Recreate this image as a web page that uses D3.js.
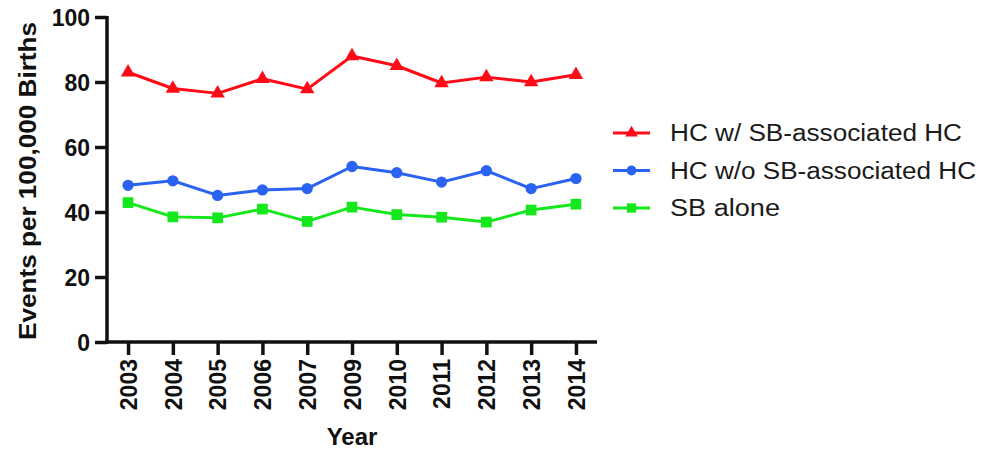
<!DOCTYPE html>
<html>
<head>
<meta charset="utf-8">
<script src="https://cdn.jsdelivr.net/npm/d3@7"></script>
<style>
html,body{margin:0;padding:0;background:#fff;}
svg{display:block;}
</style>
</head>
<body>
<svg id="chart" width="995" height="449"></svg>
<script>
const years = ["2003","2004","2005","2006","2007","2009","2010","2011","2012","2013","2014"];
const hcWithSB = [83.0, 78.0, 76.5, 81.0, 77.8, 88.0, 85.0, 79.7, 81.5, 80.0, 82.2];
const hcWithoutSB = [48.2, 49.6, 45.1, 46.8, 47.2, 54.0, 52.1, 49.2, 52.7, 47.2, 50.3];
const sbAlone = [42.9, 38.5, 38.2, 40.9, 37.1, 41.5, 39.2, 38.4, 36.9, 40.6, 42.4];
const yTicks = [0, 20, 40, 60, 80, 100];
const seriesNames = ["HC w/ SB-associated HC", "HC w/o SB-associated HC", "SB alone"];
const seriesColors = ["#ff0a17", "#2a62f2", "#14e81c"];
const seriesShapes = [d3.symbolTriangle, d3.symbolCircle, d3.symbolSquare];
const seriesSizes = [90, 100, 115];

const series = [hcWithSB, hcWithoutSB, sbAlone].map((vals, i) => ({
  name: seriesNames[i], color: seriesColors[i], shape: seriesShapes[i], size: seriesSizes[i],
  values: vals.map((v, j) => ({year: years[j], value: v}))
}));

const svg = d3.select("#chart");
const x = d3.scalePoint().domain(years).range([107, 597]).padding(0.47);
const y = d3.scaleLinear().domain([0, 100]).range([342, 17]);

const font = "'Liberation Sans', Arial, Helvetica, sans-serif";

// Y axis
const yAxis = svg.append("g").attr("transform", "translate(107,0)")
  .call(d3.axisLeft(y).tickValues(yTicks).tickSize(12).tickPadding(5).tickSizeOuter(0));
yAxis.select(".domain").attr("stroke", "#111").attr("stroke-width", 3.5).attr("d", `M0,${y(100)-1}V${y(0)+1.7}`);
yAxis.selectAll(".tick line").attr("stroke", "#111").attr("stroke-width", 3.5);
yAxis.selectAll(".tick text").attr("font-family", font).attr("font-weight", "bold")
  .attr("font-size", 23).attr("fill", "#111").attr("dy", "0.35em");

// X axis
const xAxis = svg.append("g").attr("transform", "translate(0,342)")
  .call(d3.axisBottom(x).tickSize(13).tickSizeOuter(0));
xAxis.select(".domain").attr("stroke", "#111").attr("stroke-width", 3.5).attr("d", "M105.3,0H597");
xAxis.selectAll(".tick line").attr("stroke", "#111").attr("stroke-width", 3.5);
xAxis.selectAll(".tick text").attr("font-family", font).attr("font-weight", "bold")
  .attr("font-size", 23).attr("fill", "#111")
  .attr("transform", "rotate(-90)").attr("text-anchor", "end")
  .attr("x", -17).attr("y", 0).attr("dy", "0.36em");

// Axis titles
svg.append("text").attr("font-family", font).attr("font-weight", "bold").attr("font-size", 24)
  .attr("fill", "#111").attr("text-anchor", "middle")
  .attr("transform", `translate(36,181) rotate(-90)`)
  .attr("textLength", 318).attr("lengthAdjust", "spacingAndGlyphs")
  .text("Events per 100,000 Births");
svg.append("text").attr("font-family", font).attr("font-weight", "bold").attr("font-size", 24)
  .attr("fill", "#111").attr("text-anchor", "middle")
  .attr("x", 352).attr("y", 445).text("Year");

// Lines and markers
const line = d3.line().x(d => x(d.year)).y(d => y(d.value));
series.forEach(s => {
  svg.append("path").datum(s.values).attr("d", line)
    .attr("fill", "none").attr("stroke", s.color).attr("stroke-width", 3).attr("stroke-linejoin", "round");
  svg.append("g").selectAll("path").data(s.values).join("path")
    .attr("transform", d => `translate(${x(d.year)},${y(d.value)})`)
    .attr("d", d3.symbol().type(s.shape).size(s.size))
    .attr("fill", s.color);
});

// Legend
const legend = svg.append("g");
series.forEach((s, i) => {
  const ly = 133 + i * 37.5;
  legend.append("line").attr("x1", 613).attr("x2", 650).attr("y1", ly).attr("y2", ly)
    .attr("stroke", s.color).attr("stroke-width", 3);
  legend.append("path").attr("transform", `translate(631.5,${ly})`)
    .attr("d", d3.symbol().type(s.shape).size(s.size * 0.75)).attr("fill", s.color);
  const t = legend.append("text").attr("font-family", font).attr("font-size", 23)
    .attr("fill", "#1a1a1a").attr("x", 670).attr("y", ly).attr("dy", "0.36em").text(s.name);
  const widths = [292, 306, 110];
  t.attr("textLength", widths[i]).attr("lengthAdjust", "spacingAndGlyphs");
});
</script>
</body>
</html>
